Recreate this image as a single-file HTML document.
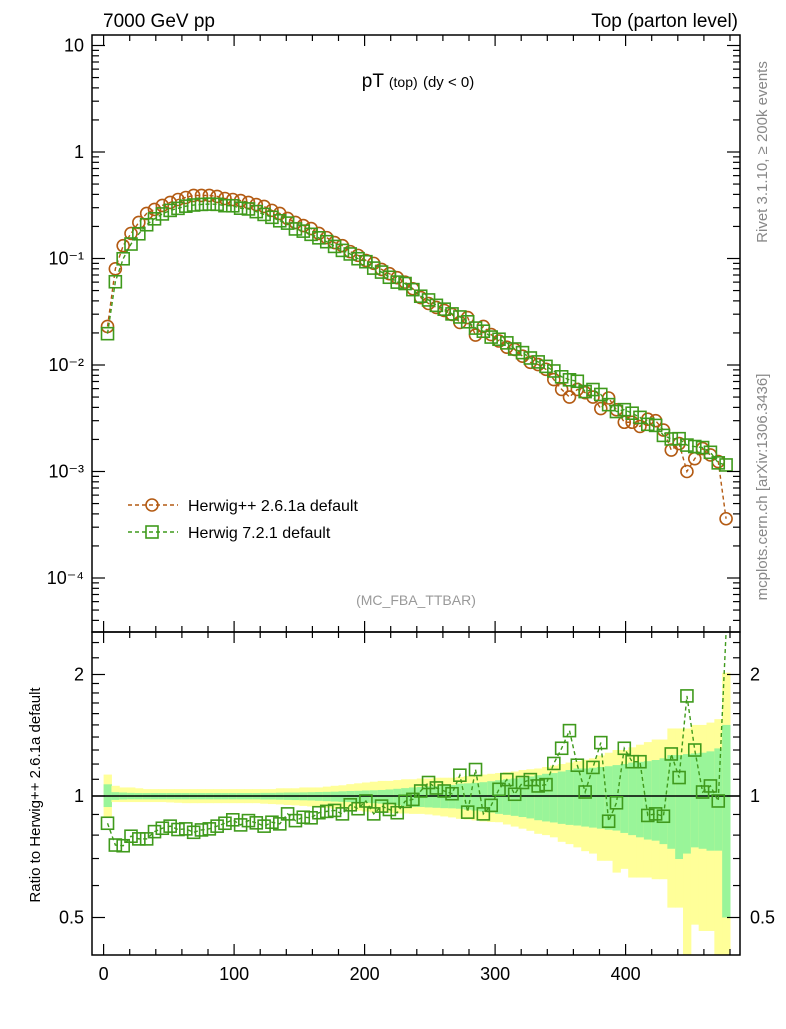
<!DOCTYPE html>
<html><head><meta charset="utf-8"><style>
body{margin:0;background:#fff;width:786px;height:1024px;overflow:hidden}
svg{font-family:"Liberation Sans",sans-serif}
</style></head><body>
<svg id="c" width="786" height="1024" viewBox="0 0 786 1024" xmlns="http://www.w3.org/2000/svg">
<text x="103" y="27" font-size="19">7000 GeV pp</text>
<text x="738" y="27" font-size="19" text-anchor="end">Top (parton level)</text>
<text x="418" y="87" font-size="19" text-anchor="middle">pT <tspan font-size="14">(top)</tspan> <tspan font-size="15">(dy &lt; 0)</tspan></text>
<text x="416" y="605" font-size="14" fill="#999" text-anchor="middle">(MC_FBA_TTBAR)</text>
<text transform="translate(767,152) rotate(-90)" font-size="15" fill="#888" text-anchor="middle">Rivet 3.1.10, ≥ 200k events</text>
<text transform="translate(767,487) rotate(-90)" font-size="15" fill="#888" text-anchor="middle">mcplots.cern.ch [arXiv:1306.3436]</text>
<text transform="translate(40,795) rotate(-90)" font-size="15" text-anchor="middle">Ratio to Herwig++ 2.6.1a default</text>
<g id="bands"></g><g id="marks"></g><g id="axes"></g>
<g>
<line x1="128" y1="505" x2="178" y2="505" stroke="#b35a12" stroke-width="1.5" stroke-dasharray="4,3"/>
<circle cx="152" cy="505" r="6" fill="none" stroke="#b35a12" stroke-width="1.6"/>
<text x="188" y="511" font-size="16">Herwig++ 2.6.1a default</text>
<line x1="128" y1="532" x2="178" y2="532" stroke="#3f9a1c" stroke-width="1.5" stroke-dasharray="4,3"/>
<rect x="146" y="526" width="12" height="12" fill="none" stroke="#3f9a1c" stroke-width="1.6"/>
<text x="188" y="538" font-size="16">Herwig 7.2.1 default</text>
</g>
</svg>
<script>
const binCenters=[3,9,15,21,27,33,39,45,51,57,63,69,75,81,87,93,99,105,111,117,123,129,135,141,147,153,159,165,171,177,183,189,195,201,207,213,219,225,231,237,243,249,255,261,267,273,279,285,291,297,303,309,315,321,327,333,339,345,351,357,363,369,375,381,387,393,399,405,411,417,423,429,435,441,447,453,459,465,471,477];
const hppValues=[0.023,0.080,0.132,0.172,0.218,0.265,0.289,0.315,0.336,0.358,0.374,0.391,0.391,0.391,0.383,0.366,0.358,0.350,0.336,0.321,0.308,0.283,0.265,0.238,0.218,0.204,0.191,0.172,0.157,0.141,0.132,0.116,0.107,0.096,0.090,0.079,0.072,0.066,0.060,0.052,0.043,
0.0378,0.0347,0.0325,0.0298,0.0251,0.0279,0.0191,0.0230,0.0193,0.0168,0.0147,0.0140,0.0121,0.0106,0.0101,0.0091,0.0073,0.0059,0.0050,0.0059,0.0055,0.0050,0.0039,0.0049,0.0038,0.0029,0.0029,0.00265,0.0031,0.0030,0.00245,0.00159,0.00183,0.0010,0.00132,0.00164,0.00143,0.00124,0.00036];
const h7Ratio=[0.856,0.756,0.753,0.795,0.783,0.783,0.816,0.832,0.842,0.826,0.829,0.813,0.824,0.829,0.842,0.856,0.873,0.848,0.869,0.858,0.842,0.861,0.853,0.903,0.869,0.886,0.883,0.909,0.916,0.921,0.903,0.951,0.930,0.972,0.903,0.944,0.926,0.909,0.970,0.981,1.029,1.080,1.047,1.029,1.013,1.126,0.912,1.163,0.903,0.948,1.039,1.098,1.010,1.080,1.098,1.059,1.067,1.204,1.313,1.452,1.192,1.023,1.177,1.356,0.866,0.962,1.313,1.216,1.216,0.895,0.903,0.891,1.271,1.111,1.770,1.300,1.023,1.059,0.972,3.2];
const yellowHi=[1.13,1.06,1.05,1.05,1.045,1.04,1.04,1.04,1.04,1.04,1.04,1.04,1.04,1.04,1.04,1.04,1.04,1.04,1.04,1.04,1.04,1.04,1.045,1.045,1.045,1.05,1.05,1.05,1.055,1.06,1.063,1.07,1.075,1.08,1.085,1.09,1.09,1.095,1.1,1.1,1.105,1.105,1.11,1.11,1.11,1.115,1.12,1.125,1.13,1.135,1.14,1.145,1.15,1.16,1.165,1.17,1.18,1.19,1.2,1.21,1.22,1.23,1.24,1.26,1.28,1.3,1.3,1.32,1.34,1.36,1.38,1.38,1.47,1.47,1.47,1.5,1.5,1.52,1.55,2.02];
const yellowLo=[0.886,0.966,0.966,0.966,0.966,0.966,0.966,0.966,0.964,0.962,0.96,0.96,0.96,0.96,0.96,0.96,0.96,0.96,0.96,0.96,0.957,0.955,0.953,0.95,0.948,0.945,0.942,0.94,0.935,0.93,0.93,0.925,0.92,0.915,0.91,0.91,0.908,0.905,0.905,0.903,0.903,0.9,0.895,0.89,0.885,0.878,0.875,0.87,0.865,0.862,0.861,0.85,0.84,0.83,0.82,0.806,0.8,0.79,0.77,0.76,0.746,0.73,0.72,0.691,0.691,0.646,0.66,0.628,0.628,0.628,0.622,0.622,0.529,0.529,0.3,0.48,0.463,0.463,0.3,0.3];
const greenHi=[1.069,1.022,1.02,1.018,1.017,1.017,1.017,1.017,1.017,1.017,1.017,1.017,1.017,1.017,1.017,1.017,1.017,1.017,1.017,1.017,1.018,1.018,1.019,1.02,1.02,1.021,1.022,1.023,1.024,1.025,1.027,1.029,1.03,1.032,1.033,1.035,1.038,1.042,1.046,1.05,1.053,1.056,1.058,1.061,1.065,1.073,1.075,1.078,1.082,1.088,1.094,1.1,1.105,1.11,1.118,1.126,1.135,1.14,1.15,1.16,1.17,1.17,1.175,1.18,1.185,1.193,1.2,1.21,1.215,1.22,1.228,1.24,1.263,1.263,1.27,1.275,1.28,1.29,1.312,1.5];
const greenLo=[0.939,0.978,0.98,0.981,0.981,0.981,0.981,0.981,0.981,0.981,0.981,0.981,0.981,0.981,0.981,0.981,0.981,0.981,0.981,0.981,0.98,0.98,0.979,0.978,0.977,0.976,0.975,0.973,0.971,0.969,0.967,0.966,0.964,0.962,0.96,0.957,0.953,0.949,0.944,0.939,0.939,0.937,0.935,0.933,0.932,0.93,0.925,0.92,0.915,0.91,0.903,0.898,0.893,0.887,0.88,0.871,0.865,0.86,0.853,0.848,0.845,0.84,0.835,0.83,0.825,0.821,0.81,0.8,0.79,0.78,0.775,0.76,0.74,0.698,0.72,0.746,0.74,0.732,0.732,0.5];
const binWidth=6;
const xTicks=[0,100,200,300,400];
const mainYTicks=[1e-4,1e-3,1e-2,1e-1,1,10];
const mainYLabels=["10\u207B\u2074","10\u207B\u00B3","10\u207B\u00B2","10\u207B\u00B9","1","10"];
const ratioYTicks=[0.5,1,2];
const ratioYLabels=["0.5","1","2"];

const NS="http://www.w3.org/2000/svg";
const L=92,R=740,MT=35,MB=632,RB=955;
const xS=v=>103.6+1.305*v;
const yM=v=>152-106.5*Math.log10(v);
const yRraw=r=>796-121.5*Math.log2(r);
const yR=r=>Math.min(RB,Math.max(MB,yRraw(r)));
function mk(parent,tag,attrs){const e=document.createElementNS(NS,tag);for(const k in attrs)e.setAttribute(k,attrs[k]);parent.appendChild(e);return e;}
const bands=document.getElementById('bands'),marks=document.getElementById('marks'),axes=document.getElementById('axes');
const HC="#b35a12",GC="#3f9a1c";

binCenters.forEach((c,i)=>{
  const x0=xS(c-binWidth/2),x1=xS(c+binWidth/2);
  const yb=mk(bands,'rect',{x:x0,y:yR(yellowHi[i]),width:x1-x0+0.5,height:yR(yellowLo[i])-yR(yellowHi[i]),fill:"#ffff99"});
  
  
  const gb=mk(bands,'rect',{x:x0,y:yR(greenHi[i]),width:x1-x0+0.5,height:yR(greenLo[i])-yR(greenHi[i]),fill:"#99f599"});
  
  
});
const one=mk(bands,'line',{x1:L,x2:R,y1:yRraw(1),y2:yRraw(1),stroke:"#000","stroke-width":1.5});



function series(vals,color,shape,name,yf,top,bot){
  const pts=binCenters.map((c,i)=>[xS(c),Math.max(top,Math.min(bot,yf(vals[i])))]);
  const pl=mk(marks,'polyline',{points:pts.map(p=>p.join(',')).join(' '),fill:"none",stroke:color,"stroke-width":1.4,"stroke-dasharray":"4,3"});
  
  
  pts.forEach(p=>{
    if(p[1]<=top||p[1]>=bot) return;
    let m;
    if(shape==='c') m=mk(marks,'circle',{cx:p[0],cy:p[1],r:6,fill:"none",stroke:color,"stroke-width":1.6});
    else m=mk(marks,'rect',{x:p[0]-6,y:p[1]-6,width:12,height:12,fill:"none",stroke:color,"stroke-width":1.6});
    
    
  });
}
const h7Main=hppValues.map((v,i)=>v*h7Ratio[i]);
series(hppValues,HC,'c','herwigpp',yM,MT,MB);
series(h7Main,GC,'s','herwig7',yM,MT,MB);
series(h7Ratio,GC,'s','herwig7-ratio',yRraw,MB,RB);

[[MT,MB],[MB,RB]].forEach((f,k)=>{const r=mk(axes,'rect',{x:L,y:f[0],width:R-L,height:f[1]-f[0],fill:"none",stroke:"#000","stroke-width":1.5});

});
for(let v=0;v<=480;v+=20){const maj=v%100===0,len=maj?11:6;const x=xS(v);
  [[MT,1],[MB,-1],[MB,1],[RB,-1]].forEach(([y,d])=>mk(axes,'line',{x1:x,x2:x,y1:y,y2:y+d*len,stroke:"#000","stroke-width":1.2}));}
xTicks.forEach(v=>{const t=mk(axes,'text',{x:xS(v),y:980,"font-size":18,"text-anchor":"middle"});t.textContent=v;

});
for(let e=-5;e<=1;e++)for(let m=1;m<=9;m++){const v=m*Math.pow(10,e),y=yM(v);if(y<MT||y>MB)continue;const len=m===1?13:7;
  mk(axes,'line',{x1:L,x2:L+len,y1:y,y2:y,stroke:"#000","stroke-width":1.2});mk(axes,'line',{x1:R,x2:R-len,y1:y,y2:y,stroke:"#000","stroke-width":1.2});}
mainYTicks.forEach((v,i)=>{const t=mk(axes,'text',{x:84,y:yM(v)+6,"font-size":18,"text-anchor":"end"});t.textContent=mainYLabels[i];

});
[0.4,0.5,0.6,0.7,0.8,0.9,1,1.1,1.2,1.3,1.4,1.5,1.6,1.7,1.8,1.9,2,2.2,2.4].forEach(v=>{const y=yRraw(v);if(y<MB||y>RB)return;const len=(v===0.5||v===1||v===2)?13:7;
  mk(axes,'line',{x1:L,x2:L+len,y1:y,y2:y,stroke:"#000","stroke-width":1.2});mk(axes,'line',{x1:R,x2:R-len,y1:y,y2:y,stroke:"#000","stroke-width":1.2});});
ratioYTicks.forEach((v,i)=>{[[84,'end'],[750,'start']].forEach(([x,a])=>{const t=mk(axes,'text',{x:x,y:yRraw(v)+6,"font-size":18,"text-anchor":a});t.textContent=ratioYLabels[i];

});});
</script>
</body></html>
